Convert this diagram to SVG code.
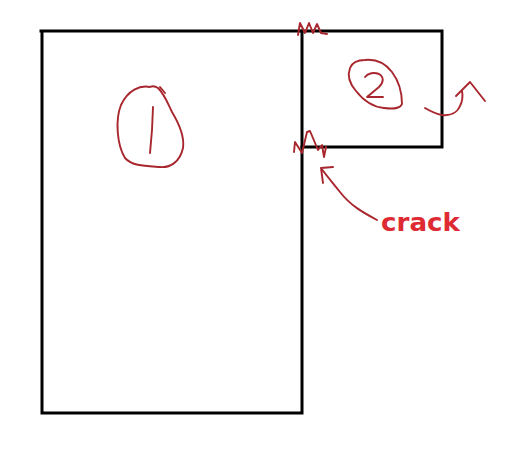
<svg xmlns="http://www.w3.org/2000/svg" width="522" height="452" viewBox="0 0 522 452">
<style>
.blk{fill:none;stroke:#000;stroke-width:3;stroke-linecap:square}
.sk{fill:none;stroke:#a8272e;stroke-width:1.9;stroke-linejoin:round;stroke-linecap:round}
.lbl{font-family:"DejaVu Sans","Liberation Sans",sans-serif;font-weight:bold;font-size:24px;fill:#de2b33}
</style>
<rect width="522" height="452" fill="#fff"/>
<g id="block1">
<path class="blk" d="M41 31 H302 V413 H42 V31"/>
<path class="sk" d="M160 87 L165 93 M150 87 C140 85 128 90 121 105 C115 120 117 145 125 158 C132 166 145 166 160 167 C170 168 180 162 183 148 C185 135 178 122 172 112 C168 104 165 95 158 88 C155 86 152 86 150 87 Z"/>
<path class="sk" d="M153 107 L152 130 L150 153"/>
</g>
<g id="block2">
<path class="blk" d="M302 31 H442 V147 H302"/>
<path class="sk" d="M350 68 C352 63 356 60 365 60 C375 59 385 63 392 72 C398 80 402 92 402 104 C400 109 393 109 384 108 C373 107 363 100 356 91 C350 84 347 76 350 68 Z"/>
<path class="sk" d="M365 77 C368 73 374 72 379 74 C384 77 384 82 379 87 L367 97 L383 97"/>
<path class="sk" d="M425 108 C430 111 436 114 442 115 C450 116 457 113 460 106 C463 100 463 96 462 91 M456 96 L463 89 L470 82 L485 101"/>
</g>
<g id="cracks">
<path class="sk" d="M298 35 L300 23 L305 33 L309 23 L313 33 L317 24 L321 33 L327 34"/>
<path class="sk" d="M294 152 L295 142 L302 153 L307 132 L310 131 L318 150 L322 145 L324 157 L326 147"/>
</g>
<g id="connectors">
<path class="sk" d="M377 220 C362 212 350 205 340 192 C332 182 326 175 321 168 M321 168 L333 167 M321 168 L323 183"/>
</g>
<text class="lbl" x="381" y="231" textLength="79" lengthAdjust="spacingAndGlyphs">crack</text>
</svg>
